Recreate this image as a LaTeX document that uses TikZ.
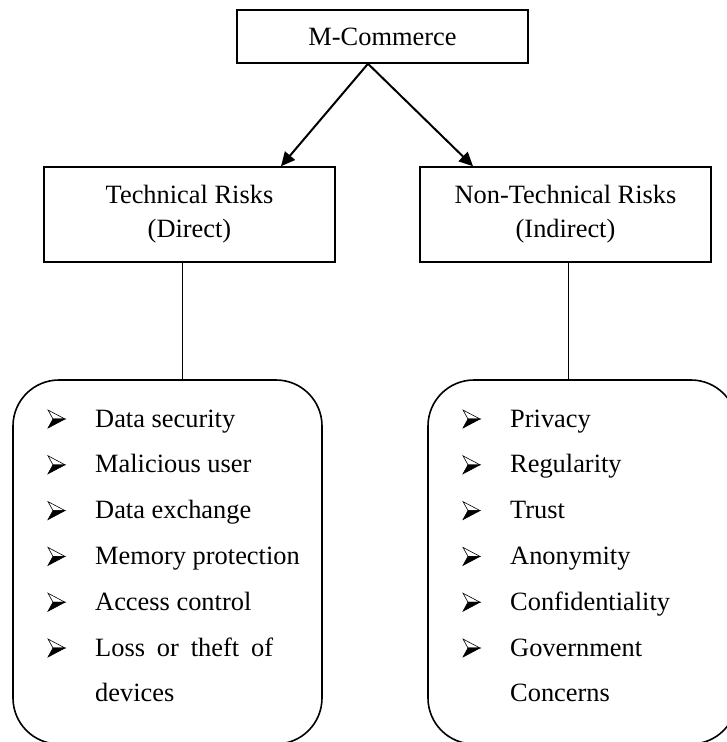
\documentclass[tikz,border=0pt]{standalone}
\usepackage{fontspec}
\setmainfont{Liberation Serif}
\usetikzlibrary{arrows.meta}
\tikzset{
  box/.style={draw, line width=1.5pt, inner sep=0pt, align=center},
  item/.style={anchor=base west, inner sep=0pt},
  rbox/.style={draw, line width=1.6pt, rounded corners=46pt},
  conn/.style={line width=2pt, -{Triangle[length=14pt,width=13pt]}},
  link/.style={line width=1pt},
  pics/bul/.style={code={
    \draw[line width=0.6pt, fill=white] (-8.5,9) -- (8.5,0) -- (-3.5,0) -- cycle;
    \fill (-3.5,0) -- (8.5,0) -- (-8.5,-9) -- cycle;
    \draw[line width=0.6pt] (-3.5,0) -- (8.5,0) -- (-8.5,-9) -- cycle;
  }}
}
\begin{document}
\begin{tikzpicture}[x=1pt,y=1pt]
\useasboundingbox (0,0) rectangle (727,-742);
\fontsize{26.4}{34}\selectfont
\node[box, minimum width=291pt, minimum height=53pt] (mc) at (382.5,-36.5) {M-Commerce};
\node[box, minimum width=291pt, minimum height=95pt] (tech) at (189.5,-214.5) {Technical Risks\\(Direct)};
\node[box, minimum width=291pt, minimum height=95pt] (ntech) at (565.5,-214.5) {Non-Technical Risks\\(Indirect)};
\draw[conn] ([xshift=-14.5pt]mc.south) -- ([xshift=91.5pt]tech.north);
\draw[conn] ([xshift=-14.5pt]mc.south) -- ([xshift=-92.5pt]ntech.north);
\draw[rbox] (13,-380) rectangle (322,-744);
\draw[rbox] (428,-380) rectangle (737,-744);
\coordinate (lt) at (182,-380);
\coordinate (rt) at (568,-380);
\draw[link] ([xshift=-7.5pt]tech.south) -- (lt);
\draw[link] ([xshift=2.5pt]ntech.south) -- (rt);
% left list
\foreach \t [count=\i from 0] in {Data security, Malicious user, Data exchange, Memory protection, Access control}{
  \pic at (56.5,{-419-45.8*\i}) {bul};
  \node[item] (l\i) at (95,{-427-45.8*\i}) {\t};
}
\pic at (56.5,{-419-45.8*5}) {bul};
\node[item] (l5) at (95,{-427-45.8*5}) {\makebox[178pt][s]{Loss or theft of}};
\node[item] (l6) at (95,{-427-45.8*6}) {devices};
% right list
\foreach \t [count=\i from 0] in {Privacy, Regularity, Trust, Anonymity, Confidentiality}{
  \pic at (471.5,{-419-45.8*\i}) {bul};
  \node[item] (r\i) at (510,{-427-45.8*\i}) {\t};
}
\pic at (471.5,{-419-45.8*5}) {bul};
\node[item] (r5) at (510,{-427-45.8*5}) {Government};
\node[item] (r6) at (510,{-427-45.8*6}) {Concerns};
\end{tikzpicture}
\end{document}
